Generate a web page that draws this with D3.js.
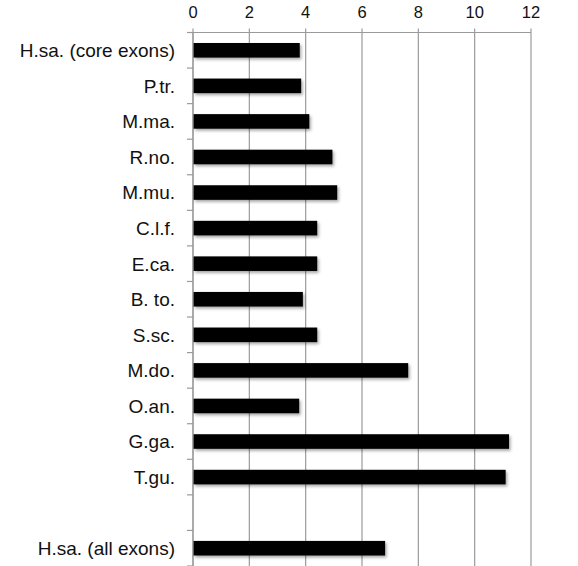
<!DOCTYPE html>
<html>
<head>
<meta charset="utf-8">
<script src="https://cdn.jsdelivr.net/npm/d3@7"></script>
<style>
  html, body { margin: 0; padding: 0; background: #fff; }
  svg { display: block; }
  text { font-family: "Liberation Sans", Arial, Helvetica, sans-serif; fill: #111; }
</style>
</head>
<body>
<svg id="chart" width="578" height="566"></svg>
<script>
// ---- data ----
const categories = [
  "H.sa. (core exons)", "P.tr.", "M.ma.", "R.no.", "M.mu.", "C.l.f.", "E.ca.",
  "B. to.", "S.sc.", "M.do.", "O.an.", "G.ga.", "T.gu.", " ", "H.sa. (all exons)"
];
const values = [3.79, 3.84, 4.13, 4.95, 5.12, 4.41, 4.41, 3.90, 4.41, 7.64, 3.77, 11.22, 11.10, null, 6.82];
const tickValues = [0, 2, 4, 6, 8, 10, 12];

// ---- layout ----
const W = 578, H = 566;
const margin = { top: 32.5, right: 47, bottom: 0, left: 193 };

const svg = d3.select("#chart");

const defs = svg.append("defs");
const f = defs.append("filter").attr("id", "shadow")
  .attr("x", "-5%").attr("y", "-40%").attr("width", "115%").attr("height", "200%");
f.append("feDropShadow").attr("dx", 1.5).attr("dy", 2).attr("stdDeviation", 1.6)
  .attr("flood-color", "#000").attr("flood-opacity", 0.35);

const x = d3.scaleLinear().domain([0, 12]).range([margin.left, W - margin.right]);
const y = d3.scaleBand().domain(categories)
  .range([margin.top, H - margin.bottom])
  .paddingInner(0.59).paddingOuter(0.295);

const step = y.step();
const y0 = y.range()[0];
const gridColor = "#9a9a9a";

// gridlines (vertical) incl. small ticks above axis line
svg.append("g").selectAll("line").data(tickValues).join("line")
  .attr("x1", d => x(d)).attr("x2", d => x(d))
  .attr("y1", margin.top - 4).attr("y2", H)
  .attr("stroke", gridColor).attr("stroke-width", 1.2);

// top axis line
svg.append("line")
  .attr("x1", x(0)).attr("x2", x(12))
  .attr("y1", margin.top).attr("y2", margin.top)
  .attr("stroke", gridColor).attr("stroke-width", 1.2);

// left axis line + ticks at band boundaries
svg.append("line")
  .attr("x1", x(0)).attr("x2", x(0))
  .attr("y1", margin.top).attr("y2", H)
  .attr("stroke", gridColor).attr("stroke-width", 1.2);
svg.append("g").selectAll("line").data(d3.range(categories.length + 1)).join("line")
  .attr("x1", x(0) - 6).attr("x2", x(0))
  .attr("y1", i => y0 + i * step).attr("y2", i => y0 + i * step)
  .attr("stroke", gridColor).attr("stroke-width", 1.2);

// tick labels (top)
svg.append("g").selectAll("text").data(tickValues).join("text")
  .attr("x", d => x(d)).attr("y", 17.5)
  .attr("text-anchor", "middle")
  .attr("font-size", 16.5)
  .text(d => d);

// category labels
svg.append("g").selectAll("text").data(categories).join("text")
  .attr("x", 175).attr("y", d => y(d) + y.bandwidth() / 2)
  .attr("dy", "0.36em")
  .attr("text-anchor", "end")
  .attr("font-size", 19)
  .text(d => d.trim());

// bars
const data = categories.map((c, i) => ({ c, v: values[i] })).filter(d => d.v != null);
svg.append("g").attr("filter", "url(#shadow)")
  .selectAll("rect").data(data).join("rect")
  .attr("x", x(0) + 0.6)
  .attr("y", d => y(d.c))
  .attr("width", d => x(d.v) - x(0) - 0.6)
  .attr("height", y.bandwidth())
  .attr("fill", "#000");
</script>
</body>
</html>
